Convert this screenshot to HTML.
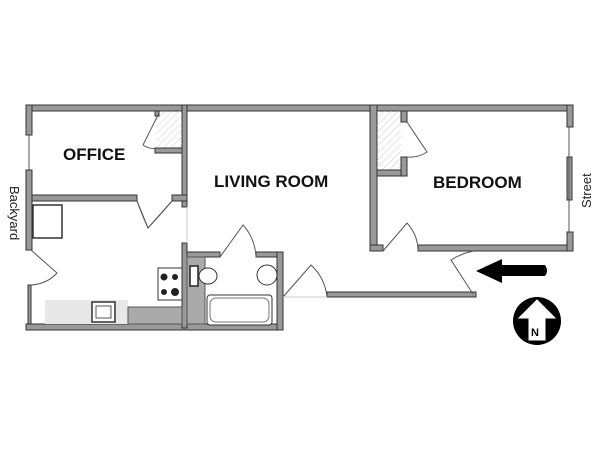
<!DOCTYPE html>
<html><head><style>body{margin:0;background:#fff}svg{display:block}</style></head><body>
<svg width="600" height="450" viewBox="0 0 600 450" xmlns="http://www.w3.org/2000/svg" font-family="Liberation Sans, sans-serif">
<defs><pattern id="h" width="5" height="5" patternUnits="userSpaceOnUse" patternTransform="rotate(45)"><line x1="0" y1="0" x2="0" y2="5" stroke="#ccc" stroke-width="1"/></pattern></defs>
<g fill="#999" stroke="#333" stroke-width="1">
<!-- top wall -->
<rect x="26" y="105" width="547" height="6"/>
<!-- left wall -->
<rect x="26" y="105" width="6" height="30"/>
<rect x="26" y="170" width="6" height="80"/>
<rect x="28" y="285" width="3" height="40"/>
<!-- bottom wall left -->
<rect x="26" y="324" width="257" height="6"/>
<!-- office/living wall -->
<rect x="182" y="105" width="5" height="102"/>
<rect x="182" y="243" width="5" height="85"/>
<!-- office bottom wall -->
<rect x="32" y="195" width="105" height="6"/>
<rect x="172" y="195" width="15" height="6"/>
<!-- office closet -->
<rect x="156" y="111" width="26" height="37" fill="url(#h)" stroke="none"/>
<rect x="155" y="148" width="27" height="5"/>
<rect x="155" y="111" width="4" height="5"/>
<!-- bath -->
<rect x="187" y="252" width="33" height="5"/>
<rect x="256" y="252" width="27" height="5"/>
<rect x="277" y="252" width="6" height="78"/>
<!-- corridor bottom -->
<rect x="327" y="292" width="149" height="5"/>
<!-- bedroom -->
<rect x="370" y="105" width="7" height="146"/>
<rect x="370" y="245" width="13" height="6"/>
<rect x="418" y="245" width="155" height="6"/>
<rect x="567" y="105" width="6" height="22"/>
<rect x="567" y="232" width="6" height="19"/>
<rect x="567" y="157" width="5" height="43"/>
<rect x="377" y="111" width="24" height="59" fill="url(#h)" stroke="none"/>
<rect x="377" y="170" width="30" height="6"/>
<rect x="401" y="111" width="6" height="11"/>
<rect x="401" y="157" width="6" height="19"/>
</g>
<g stroke="#555" stroke-width="1" fill="none">
<line x1="569" y1="127" x2="569" y2="232"/>
<line x1="29" y1="135" x2="29" y2="170"/>
<!-- doors -->
<path d="M159 113 L143 145 M143 145 Q150 150 159 148"/>
<path d="M407 122 L427 152 Q418 158 407 157"/>
<path d="M137 201 L148 228 L172 201"/>
<path d="M148 228 Q142 215 137 201 M148 228 Q160 215 172 201"/>
<path d="M31 250 L57 273 Q47 284 31 285"/>
<path d="M220 257 L243 225 Q255 238 256 257"/>
<path d="M283 297 L311 265 Q325 278 327 297"/>
<path d="M383 251 L407 223 Q418 235 418 251"/>
<path d="M473 294 L451 260 Q462 253 474 251"/>
<line x1="283" y1="297" x2="327" y2="297" stroke="#ccc"/>
<line x1="187" y1="207" x2="187" y2="243" stroke="#ccc"/>
</g>
<!-- kitchen -->
<rect x="33" y="205" width="29" height="33" fill="#fff" stroke="#333" stroke-width="1.5"/>
<rect x="45" y="300" width="83" height="24" fill="#e8e8e8"/>
<rect x="128" y="307" width="54" height="17" fill="#aaa" stroke="#555"/>
<rect x="187" y="257" width="18" height="67" fill="#aaa" stroke="#555"/>
<rect x="92" y="302" width="23" height="20" fill="#fff" stroke="#333" stroke-width="1.5"/>
<rect x="96" y="306" width="15" height="12" fill="#fff" stroke="#555"/>
<rect x="158" y="268" width="24" height="32" fill="#fff" stroke="#333"/>
<g fill="#222"><circle cx="164" cy="277" r="3.5"/><circle cx="175" cy="277" r="3"/><circle cx="164" cy="292" r="3"/><circle cx="175" cy="292" r="4"/></g>
<rect x="190" y="266" width="8" height="20" fill="#fff" stroke="#222" stroke-width="1.5"/>
<ellipse cx="208" cy="276" rx="9" ry="8" fill="#fff" stroke="#333"/>
<circle cx="267" cy="275" r="10" fill="#fff" stroke="#333"/>
<rect x="207" y="295" width="65" height="30" rx="3" fill="#fff" stroke="#333"/>
<rect x="210" y="298" width="59" height="24" rx="6" fill="#fff" stroke="#777"/>
<!-- labels -->
<g font-weight="bold" font-size="17" fill="#111">
<text x="63" y="160">OFFICE</text>
<text x="214" y="187">LIVING ROOM</text>
<text x="433" y="188">BEDROOM</text>
</g>
<text font-size="13" fill="#222" transform="translate(10,186) rotate(90)">Backyard</text>
<text font-size="13" fill="#222" transform="translate(591,208) rotate(-90)">Street</text>
<!-- arrow -->
<path d="M476 271 L502 259 L502 265 L545 265 Q549 271 545 276 L502 276 L502 283 Z" fill="#000"/>
<circle cx="537" cy="321" r="24" fill="#000"/>
<path d="M537 300 L555 318 L545 318 L545 340 L529 340 L529 318 L519 318 Z" fill="#fff" stroke="#fff"/>
<text x="531" y="336" font-size="11" font-weight="bold" fill="#000">N</text>
</svg>
</body></html>
